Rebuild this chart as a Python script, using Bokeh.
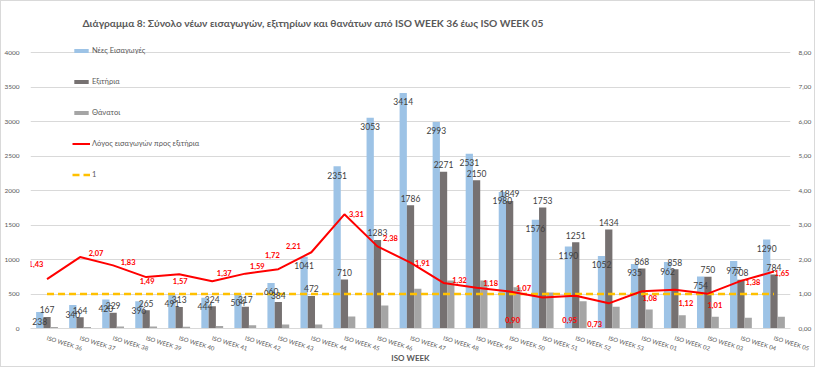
from bokeh.plotting import figure
from bokeh.models import (ColumnDataSource, FactorRange, Range1d, LinearAxis, FixedTicker,
                          LabelSet, Legend, LegendItem, CustomJSTickFormatter)
from bokeh.transform import dodge
from bokeh.core.properties import value
from bokeh.embed import file_html
from bokeh.resources import INLINE

# ---------------- data ----------------
weeks = ["ISO WEEK 36", "ISO WEEK 37", "ISO WEEK 38", "ISO WEEK 39", "ISO WEEK 40",
         "ISO WEEK 41", "ISO WEEK 42", "ISO WEEK 43", "ISO WEEK 44", "ISO WEEK 45",
         "ISO WEEK 46", "ISO WEEK 47", "ISO WEEK 48", "ISO WEEK 49", "ISO WEEK 50",
         "ISO WEEK 51", "ISO WEEK 52", "ISO WEEK 53", "ISO WEEK 01", "ISO WEEK 02",
         "ISO WEEK 03", "ISO WEEK 04", "ISO WEEK 05"]
admissions = [238, 340, 420, 396, 491, 444, 504, 660, 1041, 2351, 3053, 3414, 2993,
              2531, 1980, 1576, 1190, 1052, 935, 962, 754, 977, 1290]
exits = [167, 164, 229, 265, 313, 324, 317, 384, 472, 710, 1283, 1786, 2271,
         2150, 1849, 1753, 1251, 1434, 868, 858, 750, 708, 784]
deaths = [20, 20, 30, 30, 25, 38, 48, 58, 58, 174, 333, 575, 696,
          696, 599, 522, 396, 314, 275, 193, 169, 155, 169]
ratio = [1.43, 2.07, 1.83, 1.49, 1.57, 1.37, 1.59, 1.72, 2.21, 3.31, 2.38, 1.91, 1.32,
         1.18, 1.07, 0.90, 0.95, 0.73, 1.08, 1.12, 1.01, 1.38, 1.65]
threshold_level = 1.0

left_ticks = [0, 500, 1000, 1500, 2000, 2500, 3000, 3500, 4000]
right_ticks = [0, 1, 2, 3, 4, 5, 6, 7, 8]

title_text = ("Διάγραμμα 8: Σύνολο νέων εισαγωγών, εξιτηρίων και θανάτων "
              "από ISO WEEK 36 έως ISO WEEK 05")
series_names = ["Νέες Εισαγωγές", "Εξιτήρια", "Θάνατοι",
                "Λόγος εισαγωγών προς εξιτήρια", "1"]

# label placement for the ratio labels (screen px offsets, style only)
ratio_dx = [-11, 16, 15, 1, 1, 12, 12, -6, -18, 12, 13, 12, 16, 14, 14, -30, -6, -14, 8, 11, 7, 12, 8]
ratio_dy = [15, 4, 3, -4, -7, 8, 8, 14, 6, 0, 8, 0, 3, 5, 4, -23, -24, -21, -7, -13, -11, -1, -1]

# ---------------- styles ----------------
FONT = "Lato"
BLUE = "#9DC3E6"
DARK = "#767171"
GREY = "#A5A5A5"
RED = "#FF0000"
GOLD = "#FFC000"
TXT = "#595959"

LEFT_MAX = 4203      # small headroom above the 4000 gridline (room for the legend)
RIGHT_MAX = 8 * LEFT_MAX / 4000

src = ColumnDataSource(dict(
    week=weeks, adm=admissions, ex=exits, de=deaths, ratio=ratio,
    thr=[threshold_level] * len(weeks),
    adm_txt=[str(v) for v in admissions],
    ex_txt=[str(v) for v in exits],
    ratio_txt=[f"{v:.2f}".replace(".", ",") for v in ratio],
    dx=ratio_dx, dy=ratio_dy,
))

p = figure(x_range=FactorRange(*weeks), y_range=Range1d(0, LEFT_MAX),
           frame_width=760, frame_height=290,
           min_border_left=20, min_border_right=22, min_border_top=37, min_border_bottom=36,
           output_backend="svg", toolbar_location=None, tools="",
           title=title_text)
p.extra_y_ranges = {"ratio": Range1d(0, RIGHT_MAX)}
p.outline_line_color = None
p.background_fill_color = "white"
p.border_fill_color = "white"
p.styles = {"border": "1px solid #D9D9D9"}

p.title.align = "left"
p.title.offset = 52
p.title.standoff = 19
p.title.text_font = FONT
p.title.text_font_size = "10.2px"
p.title.text_font_style = "bold"
p.title.text_color = TXT

bw = 0.22
r_adm = p.vbar(x=dodge("week", -bw, range=p.x_range), top="adm", width=bw, source=src,
               fill_color=BLUE, line_color=None)
r_ex = p.vbar(x=dodge("week", 0, range=p.x_range), top="ex", width=bw, source=src,
              fill_color=DARK, line_color=None)
r_de = p.vbar(x=dodge("week", bw, range=p.x_range), top="de", width=bw, source=src,
              fill_color=GREY, line_color=None)

r_thr = p.line(x="week", y="thr", y_range_name="ratio", source=src,
               line_color=GOLD, line_width=2.5, line_dash="7 4")
r_ratio = p.line(x="week", y="ratio", y_range_name="ratio", source=src,
                 line_color=RED, line_width=2)

# data labels
p.add_layout(LabelSet(x=dodge("week", -bw, range=p.x_range), y="adm", text="adm_txt",
                      source=src, y_offset=-9, text_align="center", text_baseline="middle",
                      text_font=value(FONT), text_font_size="8.5px", text_color="#404040"))
p.add_layout(LabelSet(x=dodge("week", 0, range=p.x_range), y="ex", text="ex_txt",
                      source=src, y_offset=7, text_align="center", text_baseline="middle",
                      text_font=value(FONT), text_font_size="8.5px", text_color="#404040"))
p.add_layout(LabelSet(x="week", y="ratio", y_range_name="ratio", text="ratio_txt",
                      source=src, x_offset="dx", y_offset="dy", text_align="center",
                      text_baseline="middle", text_font=value(FONT), text_font_size="7.5px",
                      text_font_style="bold", text_color=RED))

# axes
p.yaxis.ticker = FixedTicker(ticks=left_ticks)
p.ygrid.ticker = FixedTicker(ticks=left_ticks)
p.ygrid.grid_line_color = "#D9D9D9"
p.xgrid.grid_line_color = None

ya = p.yaxis[0]
ya.axis_line_color = None
ya.major_tick_line_color = None
ya.minor_tick_line_color = None
ya.major_label_text_font = FONT
ya.major_label_text_font_size = "6.5px"
ya.major_label_text_color = TXT
ya.major_label_standoff = 5

rax = LinearAxis(y_range_name="ratio", ticker=FixedTicker(ticks=right_ticks),
                 formatter=CustomJSTickFormatter(code="return tick.toFixed(2).replace('.', ',');"))
rax.axis_line_color = None
rax.major_tick_line_color = None
rax.minor_tick_line_color = None
rax.major_label_text_font = FONT
rax.major_label_text_font_size = "6.5px"
rax.major_label_text_color = TXT
rax.major_label_standoff = 2
p.add_layout(rax, "right")

xa = p.xaxis[0]
xa.axis_line_color = "#D9D9D9"
xa.major_tick_line_color = None
xa.minor_tick_line_color = None
xa.major_label_orientation = -0.3
xa.major_label_text_font = FONT
xa.major_label_text_font_size = "6px"
xa.major_label_text_color = TXT
xa.major_label_standoff = 3
xa.axis_label = "ISO WEEK"
xa.axis_label_text_font = FONT
xa.axis_label_text_font_size = "8px"
xa.axis_label_text_font_style = "bold"
xa.axis_label_text_color = TXT
xa.axis_label_standoff = -5

legend = Legend(items=[LegendItem(label=series_names[0], renderers=[r_adm]),
                       LegendItem(label=series_names[1], renderers=[r_ex]),
                       LegendItem(label=series_names[2], renderers=[r_de]),
                       LegendItem(label=series_names[3], renderers=[r_ratio]),
                       LegendItem(label=series_names[4], renderers=[r_thr])],
                location=(42, 144), orientation="vertical",
                glyph_width=18, glyph_height=5, label_height=20, spacing=11,
                padding=0, margin=0, border_line_color=None, background_fill_alpha=0,
                label_text_font=FONT, label_text_font_size="7.5px",
                label_text_color=TXT, label_standoff=2)
p.add_layout(legend)

open("out.html", "w").write(file_html(p, INLINE))
